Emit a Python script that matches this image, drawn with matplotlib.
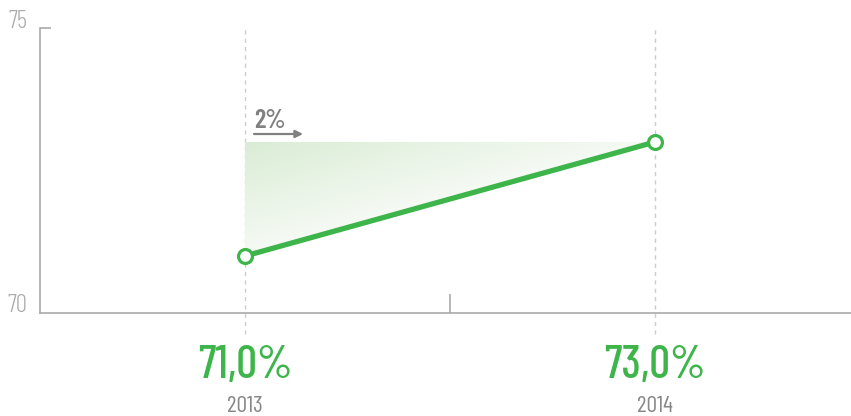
import matplotlib
matplotlib.use("Agg")
import matplotlib.pyplot as plt
import numpy as np
from matplotlib.patches import Polygon
from matplotlib import font_manager
from matplotlib.font_manager import FontProperties

years = [2013, 2014]
values = [71.0, 73.0]
value_labels = ["71,0%", "73,0%"]
year_labels = ["2013", "2014"]
change_label = "2%"
ytick_vals = [70, 75]


def fp(style, size):
    for f in font_manager.fontManager.ttflist:
        if f.fname.endswith("BarlowCondensed-%s.ttf" % style):
            return FontProperties(fname=f.fname, size=size)
    return FontProperties(family="DejaVu Sans", size=size * 0.8)


green = "#3db54a"

fig = plt.figure(figsize=(8.51, 4.16), dpi=100)
W, H = 851, 416
ax = fig.add_axes([40 / W, 1 - 313 / H, 811 / W, 285 / H])
ax.set_xlim(2012.5, 2014.478)
ax.set_ylim(70, 75)

for s in ["top", "right"]:
    ax.spines[s].set_visible(False)
for s in ["left", "bottom"]:
    ax.spines[s].set_color("#aaaaaa")
    ax.spines[s].set_linewidth(1.2)

ax.set_xticks([2013.5])
ax.set_xticklabels([""])
ax.tick_params(axis="x", direction="in", length=14, color="#aaaaaa", width=1.2)
ax.set_yticks([75])
ax.set_yticklabels([""])
ax.tick_params(axis="y", direction="in", length=8, color="#aaaaaa", width=1.2)

# y labels
for v, dy in zip(ytick_vals, [7 / 57, 6 / 57]):
    ax.text(-13 / 811, v + dy, str(v), transform=ax.get_yaxis_transform(), ha="right",
            va="center", fontproperties=fp("Light", 18), color="#aaaaaa")

# dashed guides
for x in years:
    ax.plot([x, x], [70 - 21 / 57, 75], ls=(0, (3, 3)), color="#cccccc", lw=1,
            clip_on=False, zorder=1)

# gradient fill
poly = Polygon([(years[0], values[0]), (years[0], values[1]), (years[1], values[1])],
               closed=True, facecolor="none", edgecolor="none")
ax.add_patch(poly)
nx, ny = 200, 100
gx = np.linspace(0, 1, nx)
gy = np.linspace(0, 1, ny)
GX, GY = np.meshgrid(gx, gy)
t = np.clip(0.75 * GY + 0.75 * GX, 0, 1)
c0 = np.array([0xda, 0xec, 0xd5]) / 255.0
c1 = np.array([1.0, 1.0, 1.0])
img = c0[None, None, :] * (1 - t[..., None]) + c1[None, None, :] * t[..., None]
im = ax.imshow(img, extent=[years[0], years[1], values[0], values[1]], origin="upper",
               aspect="auto", zorder=2, interpolation="bilinear")
ax.set_ylim(70, 75)
ax.set_xlim(2012.5, 2014.478)
im.set_clip_path(poly)

ax.plot(years, values, color=green, lw=3.8, zorder=4, solid_capstyle="round")
ax.plot(years, values, "o", ms=10, mfc="white", mec=green, mew=2.3, zorder=5)

# change annotation
ax.text(years[0] + 9 / 410, 73 + 14 / 57, change_label, fontproperties=fp("SemiBold", 19),
        color="#808080", ha="left", va="baseline")
ax.annotate("", xy=(years[0] + 58 / 410, 73 + 8 / 57), xytext=(years[0] + 9 / 410, 73 + 8 / 57),
            arrowprops=dict(arrowstyle="-|>", color="#808080", lw=1.6, mutation_scale=11,
                            shrinkA=0, shrinkB=0))

for x, vl, yl in zip(years, value_labels, year_labels):
    ax.text(x, 70 - 53 / 57, vl, ha="center", va="center", fontproperties=fp("Medium", 33),
            color=green, clip_on=False)
    ax.text(x, 70 - 93 / 57, yl, ha="center", va="center", fontproperties=fp("Regular", 17),
            color="#888888", clip_on=False)

fig.savefig("out.png", dpi=100)
